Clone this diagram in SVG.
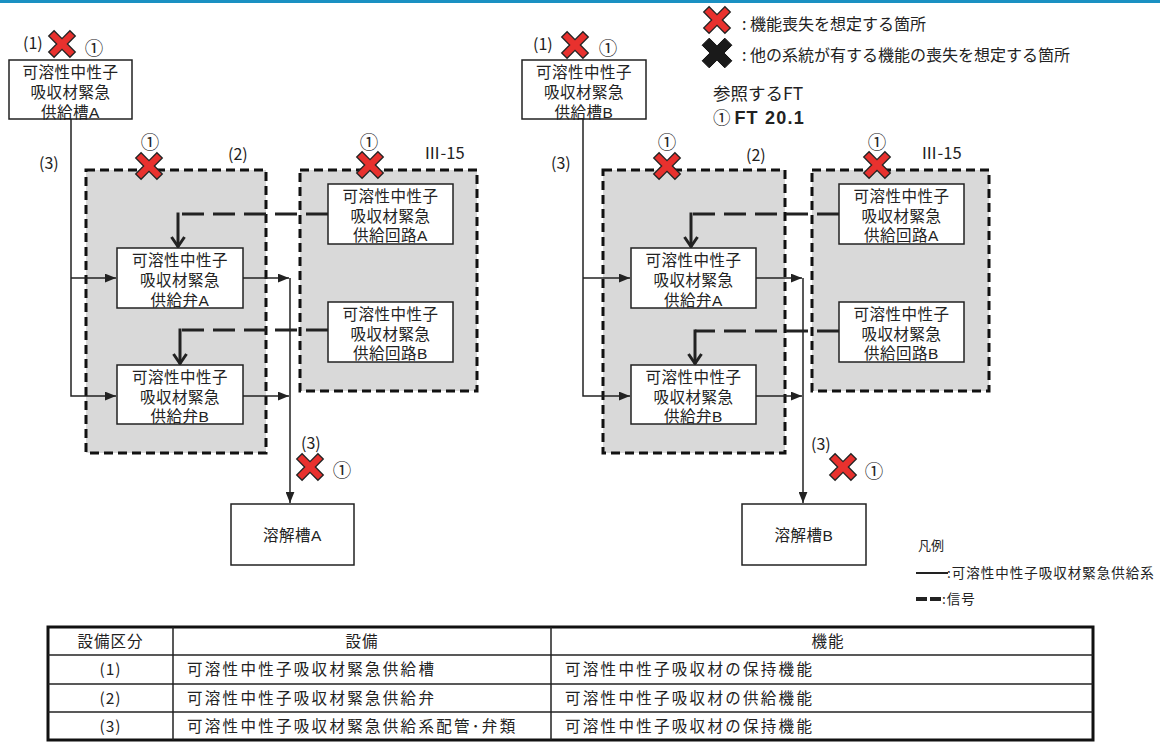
<svg xmlns="http://www.w3.org/2000/svg" xmlns:xlink="http://www.w3.org/1999/xlink" width="1160" height="743" viewBox="0 0 1160 743">
<style>
text{font-family:"Noto Sans CJK JP","Noto Sans",sans-serif;fill:#222}
.nt{font-family:"Liberation Sans","Noto Sans CJK JP",sans-serif;font-size:15.5px;letter-spacing:0.5px;text-anchor:middle}
.lb{font-size:16px}
.ci{font-size:18.5px;text-anchor:middle}
.box{fill:#fff;stroke:#222;stroke-width:1.5}
.grp{fill:#d9d9d9;stroke:#111;stroke-width:3;stroke-dasharray:9 5}
.flow{fill:none;stroke:#222;stroke-width:1.5}
.sig{fill:none;stroke:#222;stroke-width:3;stroke-dasharray:22 9}
.sigv{fill:none;stroke:#222;stroke-width:3}
.tb{font-size:15.5px;letter-spacing:2.3px}
.th{font-size:15.5px;letter-spacing:1px;text-anchor:middle}
.tl{stroke:#222;stroke-width:1.5}
</style>
<defs>
<marker id="ah" viewBox="0 0 10 8" refX="10" refY="4" markerWidth="11" markerHeight="9" markerUnits="userSpaceOnUse" orient="auto"><path d="M0,0 L10,4 L0,8 z" fill="#222"/></marker>
<marker id="sv" viewBox="0 0 12 16" refX="11" refY="8" markerWidth="12" markerHeight="16" markerUnits="userSpaceOnUse" orient="auto"><path d="M1,1.5 L10.5,8 L1,14.5" fill="none" stroke="#222" stroke-width="3"/></marker>
<polygon id="xr" points="13.29,-7.92 5.37,0 13.29,7.92 7.92,13.29 0,5.37 -7.92,13.29 -13.29,7.92 -5.37,0 -13.29,-7.92 -7.92,-13.29 0,-5.37 7.92,-13.29" fill="#e8312e" stroke="#222" stroke-width="1.3"/>
<polygon id="xb" points="14.85,-7.78 7.07,0 14.85,7.78 7.78,14.85 0,7.07 -7.78,14.85 -14.85,7.78 -7.07,0 -14.85,-7.78 -7.78,-14.85 0,-7.07 7.78,-14.85" fill="#1a1a1a" stroke="#111" stroke-width="1"/>
</defs>
<rect x="0" y="0" width="1160" height="3" fill="#1a90c2"/>

<!-- group boxes -->
<g id="groupA2"><rect class="grp" x="86" y="170" width="180" height="283"/></g>
<g id="groupA3"><rect class="grp" x="300" y="170" width="177" height="221"/></g>
<g id="groupB2"><rect class="grp" x="603" y="170" width="182" height="283"/></g>
<g id="groupB3"><rect class="grp" x="812" y="170" width="177" height="221"/></g>

<!-- connectors -->
<g id="connectors">
<path class="flow" d="M71,119 V396 H116" marker-end="url(#ah)"/>
<path class="flow" d="M71,278 H116" marker-end="url(#ah)"/>
<path class="flow" d="M243,278 H289" marker-end="url(#ah)"/>
<path class="flow" d="M243,396 H289" marker-end="url(#ah)"/>
<path class="flow" d="M290,278 V503" marker-end="url(#ah)"/>
<path class="sig" d="M328,214 H178"/>
<path class="sigv" d="M178,212.5 V247" marker-end="url(#sv)"/>
<path class="sig" d="M328,330 H180"/>
<path class="sigv" d="M180,328.5 V364" marker-end="url(#sv)"/>

<path class="flow" d="M583,119 V396 H630" marker-end="url(#ah)"/>
<path class="flow" d="M583,278 H630" marker-end="url(#ah)"/>
<path class="flow" d="M756,278 H802" marker-end="url(#ah)"/>
<path class="flow" d="M756,396 H802" marker-end="url(#ah)"/>
<path class="flow" d="M803,278 V503" marker-end="url(#ah)"/>
<path class="sig" d="M839,214 H691"/>
<path class="sigv" d="M691,212.5 V247" marker-end="url(#sv)"/>
<path class="sig" d="M839,331 H695"/>
<path class="sigv" d="M695,329.5 V364" marker-end="url(#sv)"/>
</g>

<!-- left system nodes -->
<g id="tankA"><rect class="box" x="9" y="60" width="123" height="59"/>
<text class="nt" x="70.5" y="78"><tspan x="70.5">可溶性中性子</tspan><tspan x="70.5" dy="20">吸収材緊急</tspan><tspan x="70.5" dy="19.5">供給槽A</tspan></text></g>
<g id="valveAA"><rect class="box" x="117" y="248" width="126" height="60"/>
<text class="nt" x="180" y="265.5"><tspan x="180">可溶性中性子</tspan><tspan x="180" dy="20">吸収材緊急</tspan><tspan x="180" dy="20">供給弁A</tspan></text></g>
<g id="valveAB"><rect class="box" x="117" y="365" width="126" height="59"/>
<text class="nt" x="180" y="382.5"><tspan x="180">可溶性中性子</tspan><tspan x="180" dy="20">吸収材緊急</tspan><tspan x="180" dy="19.5">供給弁B</tspan></text></g>
<g id="circuitAA"><rect class="box" x="328" y="184" width="125" height="60"/>
<text class="nt" x="390.5" y="201.5"><tspan x="390.5">可溶性中性子</tspan><tspan x="390.5" dy="20">吸収材緊急</tspan><tspan x="390.5" dy="19.5">供給回路A</tspan></text></g>
<g id="circuitAB"><rect class="box" x="328" y="302" width="125" height="60"/>
<text class="nt" x="390.5" y="319.5"><tspan x="390.5">可溶性中性子</tspan><tspan x="390.5" dy="20">吸収材緊急</tspan><tspan x="390.5" dy="19.5">供給回路B</tspan></text></g>
<g id="dissolverA"><rect class="box" x="231" y="504" width="123" height="61"/>
<text class="nt" x="292.5" y="541">溶解槽A</text></g>

<!-- right system nodes -->
<g id="tankB"><rect class="box" x="522" y="60" width="124" height="59"/>
<text class="nt" x="584" y="78"><tspan x="584">可溶性中性子</tspan><tspan x="584" dy="20">吸収材緊急</tspan><tspan x="584" dy="19.5">供給槽B</tspan></text></g>
<g id="valveBA"><rect class="box" x="631" y="248" width="125" height="60"/>
<text class="nt" x="693.5" y="265.5"><tspan x="693.5">可溶性中性子</tspan><tspan x="693.5" dy="20">吸収材緊急</tspan><tspan x="693.5" dy="20">供給弁A</tspan></text></g>
<g id="valveBB"><rect class="box" x="631" y="365" width="125" height="59"/>
<text class="nt" x="693.5" y="382.5"><tspan x="693.5">可溶性中性子</tspan><tspan x="693.5" dy="20">吸収材緊急</tspan><tspan x="693.5" dy="19.5">供給弁B</tspan></text></g>
<g id="circuitBA"><rect class="box" x="839" y="184" width="125" height="60"/>
<text class="nt" x="901.5" y="201.5"><tspan x="901.5">可溶性中性子</tspan><tspan x="901.5" dy="20">吸収材緊急</tspan><tspan x="901.5" dy="19.5">供給回路A</tspan></text></g>
<g id="circuitBB"><rect class="box" x="839" y="302" width="125" height="60"/>
<text class="nt" x="901.5" y="319.5"><tspan x="901.5">可溶性中性子</tspan><tspan x="901.5" dy="20">吸収材緊急</tspan><tspan x="901.5" dy="19.5">供給回路B</tspan></text></g>
<g id="dissolverB"><rect class="box" x="742" y="504" width="124" height="61"/>
<text class="nt" x="804" y="541">溶解槽B</text></g>

<!-- failure markers and labels, left -->
<g id="marksA">
<text class="lb" x="23" y="49">(1)</text><use xlink:href="#xr" x="62" y="44"/><text class="ci" x="94" y="54.5">①</text>
<text class="lb" x="39" y="169">(3)</text>
<text class="ci" x="150" y="149">①</text><use xlink:href="#xr" x="149" y="166"/><text class="lb" x="228" y="160">(2)</text>
<text class="ci" x="369" y="149">①</text><use xlink:href="#xr" x="370" y="165"/><text style="font-size:16.5px" x="424" y="159">Ⅲ-15</text>
<text class="lb" x="301" y="449">(3)</text><use xlink:href="#xr" x="310" y="467"/><text class="ci" x="342" y="477">①</text>
</g>
<!-- failure markers and labels, right -->
<g id="marksB">
<text class="lb" x="533" y="50">(1)</text><use xlink:href="#xr" x="575" y="45"/><text class="ci" x="608" y="55">①</text>
<text class="lb" x="551" y="169">(3)</text>
<text class="ci" x="667" y="149">①</text><use xlink:href="#xr" x="667" y="166"/><text class="lb" x="746" y="161">(2)</text>
<text class="ci" x="877" y="149">①</text><use xlink:href="#xr" x="877" y="165"/><text style="font-size:16.5px" x="921" y="159">Ⅲ-15</text>
<text class="lb" x="811" y="450">(3)</text><use xlink:href="#xr" x="843" y="467"/><text class="ci" x="874" y="478">①</text>
</g>

<!-- legend top -->
<g id="legendTop">
<use xlink:href="#xr" x="717" y="20"/>
<text style="font-size:16px" x="742" y="29.5">: 機能喪失を想定する箇所</text>
<use xlink:href="#xb" x="717" y="53"/>
<text style="font-size:16px" x="742" y="60.5">: 他の系統が有する機能の喪失を想定する箇所</text>
<text style="font-size:17.5px" x="713" y="100">参照するFT</text>
<text style="font-size:17.5px" x="713" y="123.5">① <tspan style="font-family:'Liberation Sans',sans-serif;font-weight:bold;font-size:18px;letter-spacing:1.2px">FT 20.1</tspan></text>
</g>

<!-- legend bottom -->
<g id="legendBottom">
<text style="font-size:13px" x="918" y="550">凡例</text>
<line x1="916" y1="573" x2="948" y2="573" stroke="#222" stroke-width="2"/>
<text style="font-size:13.5px;letter-spacing:1px" x="947" y="578">:可溶性中性子吸収材緊急供給系</text>
<line x1="916" y1="599" x2="942" y2="599" stroke="#222" stroke-width="4" stroke-dasharray="11 3"/>
<text style="font-size:13.5px;letter-spacing:1px" x="942" y="604">:信号</text>
</g>

<!-- table -->
<g id="table">
<rect x="48" y="627" width="1045" height="113" fill="#fff" stroke="#111" stroke-width="3"/>
<line class="tl" x1="48" y1="655" x2="1093" y2="655"/>
<line class="tl" x1="48" y1="684" x2="1093" y2="684"/>
<line class="tl" x1="48" y1="712" x2="1093" y2="712"/>
<line class="tl" x1="173" y1="627" x2="173" y2="740"/>
<line class="tl" x1="551" y1="627" x2="551" y2="740"/>
<text class="th" x="110.5" y="647">設備区分</text>
<text class="th" x="362" y="647">設備</text>
<text class="th" x="828" y="647">機能</text>
<text class="th" x="110.5" y="675">(1)</text>
<text class="th" x="110.5" y="703.5">(2)</text>
<text class="th" x="110.5" y="731.5">(3)</text>
<text class="tb" x="187" y="675">可溶性中性子吸収材緊急供給槽</text>
<text class="tb" x="187" y="703.5">可溶性中性子吸収材緊急供給弁</text>
<text class="tb" x="187" y="731.5">可溶性中性子吸収材緊急供給系配管･弁類</text>
<text class="tb" x="565" y="675">可溶性中性子吸収材の保持機能</text>
<text class="tb" x="565" y="703.5">可溶性中性子吸収材の供給機能</text>
<text class="tb" x="565" y="731.5">可溶性中性子吸収材の保持機能</text>
</g>
</svg>
